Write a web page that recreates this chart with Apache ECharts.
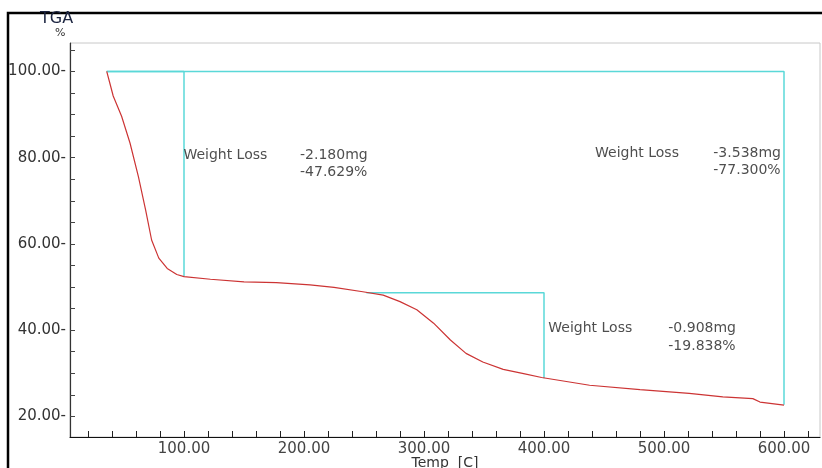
<!DOCTYPE html>
<html>
<head>
<meta charset="utf-8">
<script src="https://cdn.jsdelivr.net/npm/echarts@6.0.0/dist/echarts.min.js"></script>
<style>
  html, body { margin: 0; padding: 0; background: #fff; }
  #chart { width: 822px; height: 468px; }
</style>
</head>
<body>
<div id="chart"></div>
<script>
// TGA curve (temperature in C, weight in %)
var temps = [35.6, 38, 41, 48, 55, 62, 68, 73, 79, 86, 94, 100, 122, 150, 177, 205, 225, 249, 266, 280, 294, 308, 322, 335, 349, 366, 383, 398, 438, 480, 521, 549, 574, 580, 600]
var weights = [100, 97.5, 94.3, 89.6, 83.4, 75.6, 67.9, 60.9, 56.7, 54.3, 52.9, 52.4, 51.8, 51.2, 51.0, 50.5, 49.9, 48.9, 48.1, 46.6, 44.7, 41.6, 37.7, 34.6, 32.6, 30.9, 29.9, 29.0, 27.2, 26.2, 25.3, 24.5, 24.1, 23.3, 22.6]

// weight loss brackets
var step1T = [35.6, 100, 100]
var step1W = [100, 100, 52.37]
var step2T = [35.6, 600, 600]
var step2W = [100, 100, 22.7]
var step3T = [252, 400, 400]
var step3W = [48.67, 48.67, 28.83]

// annotation texts
var noteTexts = ['Weight Loss', '-2.180mg', '-47.629%', 'Weight Loss', '-3.538mg', '-77.300%', 'Weight Loss', '-0.908mg', '-19.838%']
var noteT = [99.5, 196.7, 196.7, 442.5, 541.1, 541.1, 403.6, 503.6, 503.6]
var noteW = [80.5, 80.5, 76.5, 81.0, 81.0, 77.0, 40.3, 40.3, 36.2]

// axis ticks / labels
var xLabels = [100, 200, 300, 400, 500, 600]
var xTicks = [20, 40, 60, 80, 100, 120, 140, 160, 180, 200, 220, 240, 260, 280, 300, 320, 340, 360, 380, 400, 420, 440, 460, 480, 500, 520, 540, 560, 580, 600, 620]
var yLabels = [20, 40, 60, 80, 100]
var yTicks = [20, 25, 30, 35, 40, 45, 50, 55, 60, 65, 70, 75, 80, 85, 90, 95, 100, 105]

function zip(a, b) {
  return a.map(function(v, i) { return [v, b[i]] })
}

var cyan = '#5ad8d8'
var font = 'DejaVu Sans'

function bracket(t, w) {
  return {
    type: 'line',
    data: zip(t, w),
    showSymbol: false,
    silent: true,
    lineStyle: { color: cyan, width: 1.5 },
    z: 3
  }
}

var chart = echarts.init(document.getElementById('chart'))
chart.setOption({
  animation: false,
  backgroundColor: '#fff',
  grid: {
    left: 70,
    right: 2,
    top: 43,
    bottom: 31,
    outerBoundsMode: 'none',
    containLabel: false,
    show: true,
    borderColor: '#c8c8c8',
    borderWidth: 1
  },
  graphic: [
    {
      type: 'rect',
      shape: { x: 8, y: 13, width: 840, height: 480 },
      style: { fill: 'none', stroke: '#000', lineWidth: 2.5 },
      silent: true
    },
    {
      type: 'text',
      left: 40,
      top: 11,
      style: { text: 'TGA', font: '16px "' + font + '"', fill: '#1c2440' }
    },
    {
      type: 'text',
      left: 55,
      top: 28,
      style: { text: '%', font: '11px "' + font + '"', fill: '#333' }
    }
  ],
  xAxis: {
    type: 'value',
    min: 5,
    max: 630,
    name: 'Temp  [C]',
    nameLocation: 'middle',
    nameGap: 19,
    nameMoveOverlap: false,
    nameTextStyle: { fontFamily: font, fontSize: 14, color: '#333' },
    splitLine: { show: false },
    axisLine: { lineStyle: { color: '#111', width: 1.2 } },
    axisTick: {
      inside: true,
      length: 6,
      customValues: xTicks,
      lineStyle: { color: '#222' }
    },
    axisLabel: {
      customValues: xLabels,
      margin: 5,
      fontFamily: font,
      fontSize: 15,
      color: '#444',
      formatter: function(v) { return v.toFixed(2) }
    }
  },
  yAxis: {
    type: 'value',
    min: 15.2,
    max: 106.6,
    splitLine: { show: false },
    axisLine: { show: true, lineStyle: { color: '#333', width: 1.2 } },
    axisTick: {
      inside: true,
      length: 5,
      customValues: yTicks,
      lineStyle: { color: '#444' }
    },
    axisLabel: {
      customValues: yLabels,
      margin: 4,
      fontFamily: font,
      fontSize: 15,
      color: '#333',
      formatter: function(v) { return v.toFixed(2) + '-' }
    }
  },
  series: [
    bracket(step1T, step1W),
    bracket(step2T, step2W),
    bracket(step3T, step3W),
    {
      type: 'line',
      data: zip(temps, weights),
      showSymbol: false,
      silent: true,
      lineStyle: { color: '#cc3434', width: 1.2 },
      z: 4
    },
    {
      type: 'scatter',
      data: zip(noteT, noteW),
      symbolSize: 0,
      silent: true,
      label: {
        show: true,
        position: 'right',
        distance: 0,
        fontFamily: font,
        fontSize: 14,
        color: '#222',
        formatter: function(p) { return noteTexts[p.dataIndex] }
      },
      z: 5
    }
  ]
})
</script>
</body>
</html>
